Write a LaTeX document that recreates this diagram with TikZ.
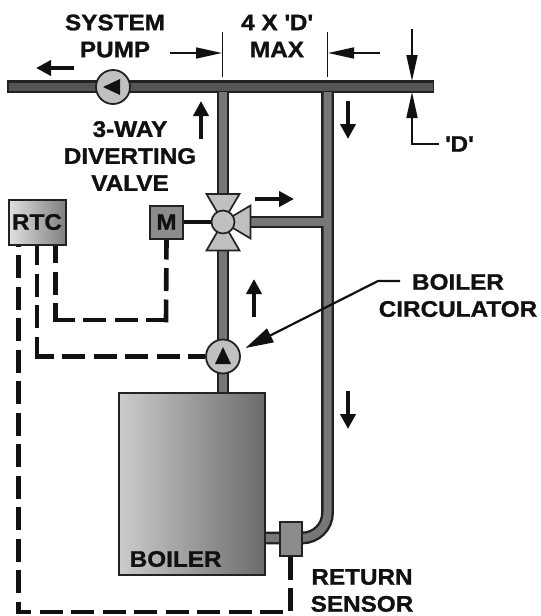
\documentclass[tikz,border=0pt]{standalone}
\usepackage{fontspec}
\setmainfont{Liberation Sans}[BoldFont={Liberation Sans Bold},BoldFeatures={FakeStretch=1.08,FakeBold=1.2}]
\usetikzlibrary{arrows.meta,calc}
\definecolor{ink}{HTML}{111111}
\definecolor{pipeedge}{HTML}{222222}
\definecolor{pipemain}{HTML}{555555}
\definecolor{pipeside}{HTML}{777777}
\definecolor{partgray}{HTML}{C0C0C0}
\definecolor{boxgray}{HTML}{8C8C8C}
\newcommand{\qt}{\textquotesingle}
\tikzset{
  lbl/.style={font=\bfseries\fontsize{22.5}{27}\selectfont,text=ink,align=center,inner sep=0pt},
  pipeO/.style={line width=12.8pt,color=pipeedge},
  pipeA/.style={line width=8pt,color=pipemain},
  pipeB/.style={line width=8pt,color=pipeside},
  pumpnode/.style={circle,draw=pipeedge,line width=1.8pt,fill=partgray,minimum size=34pt,inner sep=0pt},
  ctrl/.style={line width=4.6pt,color=ink,dash pattern=on 23pt off 8.5pt},
  flow/.style={line width=4.4pt,color=ink,-{Triangle[length=15pt,width=15pt]}},
  dimline/.style={line width=1.6pt,color=ink},
  dimarrow/.style={line width=1.6pt,color=ink,-{Triangle[length=26pt,width=11pt]}},
  boxnode/.style={rectangle,draw=pipeedge,line width=2pt,inner sep=0pt,text=ink},
  valvepart/.style={draw=pipeedge,line width=1.7pt,fill=partgray,line join=miter},
}
\begin{document}
\begin{tikzpicture}[x=1pt,y=-1pt]
\useasboundingbox (0,0) rectangle (541,616);
% anchor coordinates
\coordinate (mainL) at (7,86.5);
\coordinate (mainR) at (434,86.5);
\coordinate (teeA) at (223,86.5);
\coordinate (teeB) at (327.5,86.5);
\coordinate (teeC) at (327.5,222);
\coordinate (boilerOut) at (223,392);
\coordinate (boilerRet) at (266,538);
\coordinate (bendA) at (327.5,513);
\coordinate (bendC) at (327.5,527);
\coordinate (bendD) at (316,538);
\coordinate (bendB) at (302,538);
% pipes
\draw[pipeO] (mainL) -- (mainR);
\draw[pipeO] (teeA) -- (boilerOut);
\draw[pipeO] (teeB) -- (bendA) .. controls (bendC) and (bendD) .. (bendB) -- (boilerRet);
\draw[pipeO] (223,222) -- (teeC);
\draw[pipeB] (223,92) -- (boilerOut);
\draw[pipeB] (327.5,92) -- (bendA) .. controls (bendC) and (bendD) .. (bendB) -- (boilerRet);
\draw[pipeB] (223,222) -- (323.5,222);
\draw[pipeA] ($(mainL)+(1.5,0)$) -- ($(mainR)+(-1.5,0)$);
% parts
\node[pumpnode] (syspump) at (113,87) {};
\fill[ink] (103,87) -- (120,79) -- (120,95) -- cycle;
\node[pumpnode] (boilpump) at (223,356.5) {};
\fill[ink] (223,347) -- (231,364) -- (215,364) -- cycle;
\node[boxnode,minimum width=146pt,minimum height=182pt,anchor=north west,left color=black!20,right color=black!58,draw=pipeedge] (boiler) at (117.5,391.5) {};
\node[lbl,anchor=west] (boilertxt) at (129.5,559) {BOILER};
\node[boxnode,fill=boxgray,minimum width=22pt,minimum height=34pt] (sensor) at (290.5,538.5) {};
\node[boxnode,fill=boxgray,minimum width=33pt,minimum height=33pt,font=\bfseries\fontsize{22.5}{26}\selectfont] (motor) at (166.5,222) {M};
\node[boxnode,left color=black!12,right color=black!50,minimum width=57pt,minimum height=45pt,font=\bfseries\fontsize{22.5}{26}\selectfont] (rtc) at (37,222) {RTC};
% valve
\coordinate (vc) at (223,222);
\draw[line width=3.8pt,color=ink] (motor.east) -- (vc);
\draw[valvepart] (vc) -- (206.5,194) -- (239.5,194) -- cycle;
\draw[valvepart] (vc) -- (206.5,250.5) -- (239.5,250.5) -- cycle;
\draw[valvepart] (vc) -- (250.5,205.5) -- (250.5,238.5) -- cycle;
\node[circle,draw=pipeedge,line width=1.7pt,fill=partgray,minimum size=23pt,inner sep=0pt] (valve) at (vc) {};
% control wiring
\coordinate (w1) at (55.5,320);
\coordinate (w1b) at (166,320);
\coordinate (w2) at (37,356.5);
\coordinate (w3) at (18.5,612);
\coordinate (w3b) at (290.5,612);
\draw[ctrl,dash phase=3pt] (motor.south) -- ($(w1b)+(0,2.3)$);
\draw[ctrl,dash phase=3pt] (w1b) -- ($(w1)+(-2.3,0)$);
\draw[ctrl,dash phase=6pt] (w1) -- (w1 |- rtc.south);
\draw[ctrl,dash phase=6pt] (boilpump.west) -- ($(w2)+(-2.3,0)$);
\draw[ctrl,dash phase=3pt] (w2) -- (w2 |- rtc.south);
\draw[ctrl] (sensor.south) -- (w3b) -- (w3) -- (w3 |- rtc.south);
% labels
\node[lbl] (syslabel) at (115,36) {SYSTEM\\PUMP};
\node[lbl] (dlabel) at (277,36) {4 X \qt D\qt\\MAX};
\node[lbl] (valvelabel) at (130,156) {3-WAY\\DIVERTING\\VALVE};
\node[lbl,anchor=west] (dmark) at (445,144) {\qt D\qt};
\node[lbl] (circlabel) at (458,295.5) {BOILER\\CIRCULATOR};
\node[lbl] (senslabel) at (362,590.5) {RETURN\\SENSOR};
% flow arrows
\coordinate (fa1) at (74,68); \coordinate (fa2) at (36,68);
\draw[flow] (fa1) -- (fa2);
\coordinate (fb1) at (201,139); \coordinate (fb2) at (201,101);
\draw[flow] (fb1) -- (fb2);
\coordinate (fc1) at (348,101); \coordinate (fc2) at (348,139);
\draw[flow] (fc1) -- (fc2);
\coordinate (fd1) at (255,199); \coordinate (fd2) at (294,199);
\draw[flow] (fd1) -- (fd2);
\coordinate (fe1) at (254,317); \coordinate (fe2) at (254,279);
\draw[flow] (fe1) -- (fe2);
\coordinate (ff1) at (348,391); \coordinate (ff2) at (348,429);
\draw[flow] (ff1) -- (ff2);
% dimensions
\coordinate (tickA1) at (222.5,32); \coordinate (tickA2) at (222.5,77);
\coordinate (tickB1) at (327.5,32); \coordinate (tickB2) at (327.5,77);
\draw[dimline] (tickA1) -- (tickA2);
\draw[dimline] (tickB1) -- (tickB2);
\coordinate (da) at (170,53); \coordinate (da2) at (222,53);
\draw[dimarrow] (da) -- (da2);
\coordinate (db) at (380,53); \coordinate (db2) at (328,53);
\draw[dimarrow] (db) -- (db2);
\coordinate (dc) at (412,29); \coordinate (dc2) at (412,81);
\draw[dimarrow] (dc) -- (dc2);
\coordinate (dd) at (439,144); \coordinate (dd1) at (412,144); \coordinate (dd2) at (412,92);
\draw[dimarrow] (dd) -- (dd1) -- (dd2);
\coordinate (lead0) at (400,281); \coordinate (lead1) at (378,281); \coordinate (leadtip) at (245.5,348);
\draw[line width=2.2pt,color=ink,-{Triangle[length=28pt,width=15pt]}] (lead0) -- (lead1) -- (leadtip);
\end{tikzpicture}
\end{document}
